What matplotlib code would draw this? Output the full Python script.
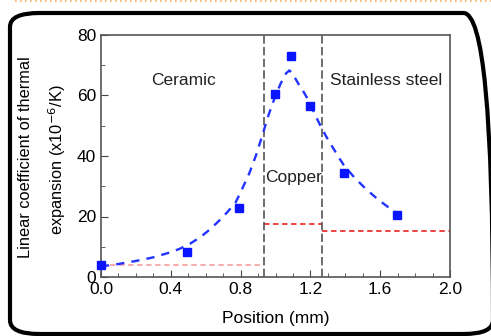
import numpy as np
import matplotlib
matplotlib.use("Agg")
import matplotlib.pyplot as plt
from matplotlib.patches import FancyBboxPatch
from matplotlib.lines import Line2D

plt.rcParams['font.family'] = ['Liberation Sans', 'DejaVu Sans']

# measured points
pos = [0.0, 0.49, 0.79, 0.995, 1.09, 1.195, 1.395, 1.695]
cte = [4.0, 8.2, 22.7, 60.6, 73.2, 56.4, 34.3, 20.5]

# fitted guide curve
fit_x = [0.0, 0.1, 0.2, 0.3, 0.4, 0.45, 0.51, 0.57, 0.63, 0.68, 0.72, 0.77,
         0.80, 0.85, 0.89, 0.92, 0.96, 1.00, 1.03, 1.06, 1.08, 1.10, 1.13,
         1.16, 1.19, 1.22, 1.255, 1.29, 1.32, 1.36, 1.39, 1.45, 1.52, 1.59,
         1.66, 1.70]
fit_y = [3.5, 4.3, 5.3, 6.5, 8.2, 9.3, 11.0, 13.2, 16.0, 18.8, 21.2, 24.5,
         28.0, 34.3, 40.5, 46.0, 53.5, 60.0, 64.0, 67.3, 68.3, 67.0, 64.0,
         61.3, 58.3, 54.5, 50.3, 46.5, 43.6, 39.8, 37.1, 33.0, 29.0, 25.5,
         22.5, 21.0]

# bulk values per material
bounds = [0.0, 0.932, 1.265, 2.0]
bulk = [4.0, 17.5, 15.2]
bulk_colors = ['#f4a6a6', '#ee3333', '#ee3333']

fig = plt.figure(figsize=(4.91, 3.36), dpi=100)

# rounded frame and dotted top line
frame = FancyBboxPatch((10 / 491, 2 / 336), 483 / 491, 321 / 336,
                       boxstyle="round,pad=0,rounding_size=0.06",
                       transform=fig.transFigure, fill=False,
                       edgecolor='black', linewidth=3, mutation_aspect=336 / 491)
fig.patches.append(frame)
fig.lines.append(Line2D([0.03, 1.0], [0.997, 0.997], transform=fig.transFigure,
                        color='#f5b060', linestyle=(0, (1, 2)), linewidth=1.2))

ax = fig.add_axes([101 / 491, 59 / 336, 349 / 491, 242 / 336])

for i in range(3):
    ax.plot([bounds[i], bounds[i + 1]], [bulk[i], bulk[i]], color=bulk_colors[i],
            linestyle=(0, (3, 2)), linewidth=1.3)
for b in bounds[1:3]:
    ax.axvline(b, color='#555555', linestyle=(0, (5, 2)), linewidth=1.2)

ax.plot(fit_x, fit_y, color='#2233ff', linestyle=(0, (3.5, 3)), linewidth=1.7)
ax.plot(pos, cte, 's', color='#0a14ff', markersize=6, clip_on=False, zorder=5)

ax.text(0.47, 65, 'Ceramic', fontsize=12.5, ha='center', va='center', color='#222222')
ax.text(1.635, 65, 'Stainless steel', fontsize=12.5, ha='center', va='center', color='#222222')
ax.text(0.94, 33, 'Copper', fontsize=12.5, ha='left', va='center', color='#222222')

ax.set_xlim(0, 2.0)
ax.set_ylim(0, 80)
ax.set_xticks([0.0, 0.4, 0.8, 1.2, 1.6, 2.0])
ax.set_xticks(np.arange(0, 2.01, 0.1), minor=True)
ax.set_yticks([0, 20, 40, 60, 80])
ax.set_yticks([10, 30, 50, 70], minor=True)
ax.xaxis.set_major_formatter(matplotlib.ticker.FormatStrFormatter('%.1f'))
ax.tick_params(which='both', direction='in', labelsize=12.5, color='#444444')
ax.tick_params(which='major', length=5)
ax.tick_params(which='minor', length=3)
for s in ax.spines.values():
    s.set_color('#555555')
    s.set_linewidth(1.2)

ax.set_xlabel('Position (mm)', fontsize=12.5, labelpad=10)

# two-line y label placed by hand
fig.text(26 / 491, 1 - 157 / 336, 'Linear coefficient of thermal', rotation=90,
         fontsize=11.8, ha='center', va='center')
fig.text(57 / 491, 1 - 160 / 336, 'expansion (x10$^{-6}$/K)', rotation=90,
         fontsize=11.8, ha='center', va='center')

fig.savefig('out.png', dpi=100)
